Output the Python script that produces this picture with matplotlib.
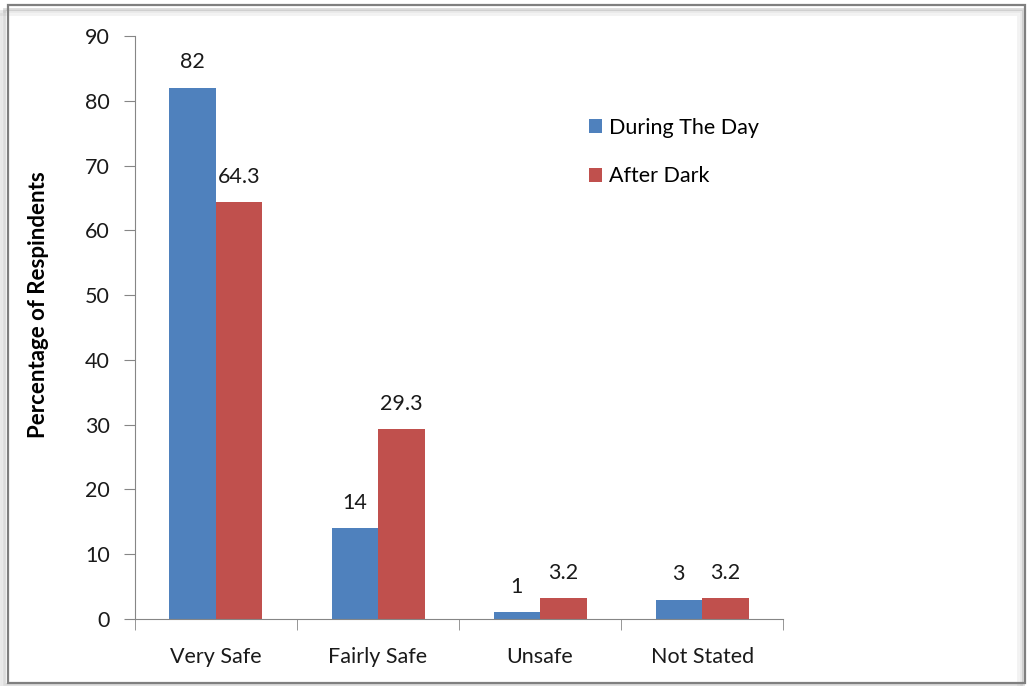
import numpy as np
import matplotlib.pyplot as plt
from matplotlib.patches import Rectangle

categories = ["Very Safe", "Fairly Safe", "Unsafe", "Not Stated"]
day = [82, 14, 1, 3]
dark = [64.3, 29.3, 3.2, 3.2]
day_labels = ["82", "14", "1", "3"]
dark_labels = ["64.3", "29.3", "3.2", "3.2"]

plt.rcParams['font.family'] = ['Lato', 'DejaVu Sans']
fs = 15.5

fig = plt.figure(figsize=(10.32, 6.86), dpi=100)

# frame with a soft shadow round the chart
for i, a in enumerate([0.10, 0.18, 0.28]):
    off = (3 - i) * 0.0025
    fig.patches.append(Rectangle((0.006 - off, 0.006 - off * 1.5), 0.988, 0.985,
                                 transform=fig.transFigure, fill=False,
                                 edgecolor='gray', alpha=a, lw=2))
fig.patches.append(Rectangle((0.008, 0.005), 0.985, 0.987, transform=fig.transFigure,
                             fill=False, edgecolor='#7f7f7f', lw=1.6))

ax = fig.add_axes([0.1308, 0.0977, 0.628, 0.8499])
x = np.arange(len(categories))
w = 0.287
b1 = ax.bar(x - w / 2, day, w, color='#4f81bd', label='During The Day')
b2 = ax.bar(x + w / 2, dark, w, color='#c0504d', label='After Dark')

for rect, lab in zip(b1, day_labels):
    ax.text(rect.get_x() + rect.get_width() / 2, rect.get_height() + 2.4, lab,
            ha='center', va='bottom', fontsize=fs, color='#1a1a1a')
for rect, lab in zip(b2, dark_labels):
    ax.text(rect.get_x() + rect.get_width() / 2, rect.get_height() + 2.4, lab,
            ha='center', va='bottom', fontsize=fs, color='#1a1a1a')

ax.set_xlim(-0.5, 3.5)
ax.set_ylim(0, 90)
ax.set_yticks(range(0, 91, 10))
ax.set_xticks(x)
ax.set_xticklabels(categories, fontsize=fs)
ax.set_xticks(np.arange(-0.5, 4.0, 1.0), minor=True)
ax.tick_params(axis='x', which='major', length=0, pad=20, colors='#1a1a1a')
ax.tick_params(axis='x', which='minor', length=8, color='#868686', direction='out')
ax.tick_params(axis='y', length=8, color='#868686', direction='out', labelsize=fs, pad=10,
               labelcolor='#1a1a1a')
for s in ['top', 'right']:
    ax.spines[s].set_visible(False)
for s in ['left', 'bottom']:
    ax.spines[s].set_color('#868686')
ax.set_ylabel('Percentage of Respindents', fontsize=16, fontweight='bold')
ax.yaxis.set_label_coords(-0.133, 0.54)

ax.legend(loc='upper left', bbox_to_anchor=(0.67, 0.893), frameon=False, fontsize=fs,
          handlelength=0.6, handleheight=0.6, handletextpad=0.35, labelspacing=1.33)

fig.savefig('out.png', dpi=100)
